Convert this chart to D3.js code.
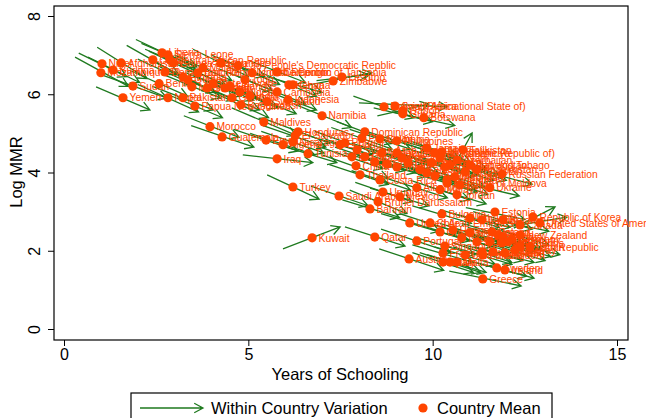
<!DOCTYPE html>
<html>
<head>
<meta charset="utf-8">
<script src="https://cdn.jsdelivr.net/npm/d3@7/dist/d3.min.js"></script>
<style>
  body { margin: 0; background: #fff; }
  text { font-family: "Liberation Sans", Arial, sans-serif; }
</style>
</head>
<body>
<div id="chart"></div>
<script>
// Country names (same order in every array below)
const countries = [
  "Niger","Mozambique","Afghanistan","Burkina Faso","Sudan","Yemen","Chad","Liberia","Sierra Leone","Central African Republic",
  "Democratic Republic of the Congo","Benin","Guinea-Bissau","Ethiopia","Guinea","Mauritania","Nepal","Pakistan","Papua New Guinea","Burundi",
  "Malawi","Senegal","Cote d'Ivoire","Rwanda","Haiti","Gambia","Nigeria","Bangladesh","Lao People's Democratic Repblic","United Republic of Tanzania",
  "Togo","Cameroon","Kenya","Ghana","Uganda","Cambodia","Swaziland","Indonesia","India","Zimbabwe",
  "Lesotho","Namibia","Maldives","Morocco","Guatemala","Iraq","Turkey","Kuwait","Saudi Arabia","Bahrain",
  "Brunei Darussalam","Uruguay","Qatar","Portugal","Austria","United Arab Emirates","Costa Rica","Thailand","China","Brazil",
  "Tunisia","Honduras","El Salvador","Nicaragua","Algeria","Egypt","Dominican Republic","Ecuador","Peru","Paraguay",
  "Colombia","Philippines","Bolivia (Plurinational State of)","South Africa","Guyana","Botswana","Gabon","Tajikistan","Trinidad and Tobago","Russian Federation",
  "Republic of Moldova","Ukraine","Kyrgyzstan","Kazakhstan","Uzbekistan","Mongolia","Viet Nam","Iran (Islamic Republic of)","Jamaica","Sri Lanka",
  "Armenia","Azerbaijan","Georgia","Belize","Malaysia","Jordan","Albania","Mexico","Libyan Arab Jamahiriya","Panama",
  "Venezuela","Fiji","Suriname","Cape Verde","Syrian Arab Republic","Tonga","Lebanon","Samoa","Turkmenistan","Argentina",
  "Mauritius","Chile","Bulgaria","Estonia","Republic of Korea","United States of America","Canada","Lithuania","Latvia","Belarus",
  "Hungary","Croatia","Slovakia","Poland","Serbia","Cyprus","Germany","New Zealand","Israel","Slovenia",
  "Belgium","Netherlands","Denmark","Czech Republic","Norway","Japan","Switzerland","Australia","Iceland","Finland",
  "France","United Kingdom","Spain","Italy","Malta","Sweden","Ireland","Greece","Singapore"
];

// Country means
const meanSchooling = [
  1.03,1.00,1.55,1.33,1.87,1.60,2.41,2.66,2.82,2.87,
  2.74,2.58,2.96,3.23,3.36,3.47,2.82,3.23,3.55,3.63,
  3.77,3.88,4.04,4.26,4.37,4.56,4.77,4.80,4.72,5.10,
  4.91,5.78,6.10,6.21,4.50,5.78,5.51,6.08,5.04,7.30,
  7.54,7.00,5.42,3.96,4.29,5.78,6.21,6.73,7.46,8.30,
  8.52,8.65,8.43,9.57,9.36,9.38,8.57,8.03,7.92,7.81,
  6.62,6.35,6.27,6.21,5.94,5.48,8.16,7.49,7.62,8.08,
  8.57,9.03,8.68,8.98,9.19,9.76,9.19,10.82,10.47,11.88,
  10.39,11.55,10.88,11.20,11.01,10.25,10.20,10.05,9.84,9.98,
  10.33,10.66,9.84,10.74,10.20,10.66,9.57,9.11,9.03,9.17,
  8.62,8.43,8.76,8.16,7.95,9.03,9.33,9.66,10.06,10.39,
  10.60,9.93,10.25,11.69,12.72,12.91,12.37,11.01,11.34,11.91,
  10.55,10.20,11.01,11.61,11.77,11.91,12.15,12.37,10.79,11.20,
  11.55,11.88,12.04,12.37,12.23,12.64,11.34,11.64,11.96,11.36,
  10.28,10.88,10.28,10.47,10.66,11.74,11.96,11.36,10.33
];
const meanLogMMR = [
  6.78,6.55,6.80,6.62,6.21,5.91,6.88,7.06,7.01,6.88,
  6.57,6.27,6.80,6.44,6.37,6.19,5.91,5.91,5.70,6.55,
  6.68,6.16,6.27,6.80,6.16,5.91,6.06,5.73,6.73,6.55,
  6.37,6.57,6.24,6.24,6.21,6.06,5.81,5.86,5.96,6.34,
  6.44,5.45,5.29,5.17,4.91,4.35,3.63,2.33,3.40,3.07,
  3.25,3.50,2.35,2.25,1.79,2.71,3.81,3.94,4.17,4.40,
  4.48,5.04,4.94,4.78,4.71,4.83,5.04,4.71,4.76,4.88,
  4.86,4.81,5.68,5.70,5.50,5.40,5.58,4.58,4.19,3.96,
  3.73,3.61,4.02,4.07,4.19,4.53,4.37,4.50,4.63,4.25,
  4.14,4.32,3.99,3.68,3.56,3.43,3.61,3.38,4.50,4.37,
  4.50,4.27,4.22,4.40,4.58,4.14,4.25,4.07,3.91,3.81,
  3.89,2.71,2.94,2.99,2.86,2.71,2.66,2.84,2.79,2.79,
  2.53,2.48,2.46,2.48,2.40,2.35,2.30,2.40,2.33,2.23,
  2.23,2.20,2.23,2.10,2.02,2.10,1.97,1.97,1.94,1.89,
  1.94,1.89,1.71,1.71,1.71,1.56,1.51,1.28,2.12
];

// Within-country variation: first and last observation
const startSchooling = [
  0.40,0.30,0.90,0.65,1.00,0.87,1.70,1.95,2.10,2.20,
  2.00,1.80,2.30,2.50,2.60,2.70,2.00,2.40,2.80,2.90,
  3.00,3.10,3.30,3.50,3.60,3.80,4.00,4.05,4.00,4.35,
  4.20,5.05,5.35,5.50,3.75,5.00,4.75,5.30,4.30,6.45,
  6.85,6.25,4.55,3.25,3.45,4.85,5.51,5.94,6.70,7.55,
  7.75,7.90,7.62,8.60,8.55,8.60,7.80,7.20,7.00,6.95,
  5.85,5.50,5.40,5.35,5.05,4.60,7.40,6.60,6.80,7.25,
  7.75,8.20,7.85,8.00,8.40,8.90,8.50,10.60,9.65,11.10,
  9.60,10.80,10.05,10.40,10.20,9.40,9.35,9.20,9.00,9.10,
  9.50,9.85,9.00,9.95,9.40,9.85,8.75,8.30,8.20,8.35,
  7.80,7.60,7.95,7.35,7.10,8.20,8.50,8.85,9.25,9.55,
  9.80,9.10,9.45,10.90,12.20,12.10,11.60,10.20,10.55,11.10,
  9.70,9.40,10.20,10.80,10.95,11.10,11.35,11.55,9.95,10.40,
  10.75,11.10,11.25,11.60,11.45,11.85,10.55,10.85,11.15,10.55,
  9.45,10.05,9.45,9.65,9.85,10.95,11.15,10.45,9.50
];
const startLogMMR = [
  7.05,6.95,7.20,6.95,6.50,6.19,7.25,7.40,7.30,7.15,
  6.90,6.60,7.10,6.80,6.70,6.50,6.25,6.20,6.00,6.90,
  7.00,6.45,6.55,7.15,6.45,6.20,6.35,6.05,7.00,6.85,
  6.65,6.85,6.55,6.45,6.50,6.35,6.10,6.15,6.25,6.20,
  6.35,5.75,5.65,5.45,5.20,4.45,3.94,2.05,3.65,3.30,
  3.55,3.75,2.61,2.55,2.05,2.95,4.05,4.20,4.45,4.65,
  4.70,5.35,5.20,5.05,5.00,5.10,5.30,4.95,5.05,5.15,
  5.10,5.05,5.95,5.78,5.65,5.55,5.45,4.20,4.40,4.10,
  3.95,3.75,4.25,4.30,4.40,4.80,4.60,4.75,4.85,4.50,
  4.35,4.60,4.20,3.90,3.80,3.65,3.85,3.60,4.75,4.60,
  4.75,4.50,4.45,4.65,4.85,4.35,4.50,4.30,4.15,4.05,
  4.10,2.95,3.15,3.10,2.58,2.62,2.80,3.05,2.95,3.00,
  2.75,2.70,2.70,2.70,2.60,2.55,2.50,2.60,2.55,2.45,
  2.45,2.40,2.40,2.30,2.20,2.25,2.20,2.15,2.10,2.10,
  2.15,2.10,1.95,1.95,1.90,1.75,1.70,1.48,2.35
];
const endSchooling = [
  1.70,1.75,2.25,2.05,2.80,2.33,3.10,3.40,3.60,3.60,
  3.50,3.35,3.65,4.00,4.10,4.25,3.65,4.05,4.30,4.40,
  4.55,4.65,4.80,5.00,5.15,5.30,5.55,5.55,5.45,5.85,
  5.65,6.55,6.85,7.00,5.25,6.55,6.30,6.85,5.80,8.35,
  8.25,7.80,6.30,4.75,5.15,6.75,6.92,7.49,8.25,9.10,
  9.30,9.45,9.25,10.50,10.30,10.20,9.40,8.80,8.80,8.65,
  7.40,7.20,7.10,7.05,6.80,6.35,8.95,8.35,8.45,8.90,
  9.40,9.85,9.50,10.40,10.00,10.60,9.90,11.07,11.25,12.70,
  11.20,12.35,11.65,12.00,11.80,11.05,11.05,10.90,10.70,10.80,
  11.15,11.45,10.65,11.50,11.00,11.45,10.40,9.90,9.85,10.00,
  9.45,9.25,9.55,8.95,8.75,9.85,10.15,10.45,10.85,11.20,
  11.40,10.75,11.05,12.50,13.32,13.64,13.15,11.80,12.10,12.70,
  11.40,11.00,11.85,12.40,12.60,12.70,12.95,13.15,11.60,12.00,
  12.35,12.70,12.85,13.20,13.05,13.45,12.15,12.45,12.75,12.15,
  11.10,11.70,11.10,11.30,11.45,12.55,12.75,12.40,11.15
];
const endLogMMR = [
  6.45,6.20,6.40,6.30,5.90,5.60,6.50,6.75,6.70,6.60,
  6.25,5.95,6.50,6.10,6.05,5.90,5.55,5.60,5.40,6.20,
  6.35,5.85,5.95,6.45,5.85,5.60,5.75,5.40,6.45,6.25,
  6.10,6.30,5.95,6.05,5.90,5.75,5.50,5.60,5.65,6.55,
  6.50,5.15,4.95,4.90,4.65,4.25,3.32,2.61,3.15,2.85,
  2.95,3.25,2.12,1.95,1.50,2.50,3.55,3.70,3.85,4.10,
  4.25,4.75,4.65,4.50,4.45,4.55,4.75,4.45,4.50,4.60,
  4.60,4.55,5.40,5.68,5.30,5.20,5.75,5.01,3.95,3.70,
  3.50,3.40,3.80,3.80,3.95,4.25,4.15,4.25,4.40,4.00,
  3.90,4.10,3.75,3.45,3.30,3.20,3.35,3.15,4.25,4.15,
  4.25,4.05,4.00,4.15,4.30,3.90,4.00,3.85,3.70,3.60,
  3.65,2.45,2.70,2.80,3.12,2.86,2.50,2.60,2.60,2.55,
  2.30,2.25,2.20,2.25,2.15,2.10,2.05,2.15,2.10,2.00,
  2.00,1.95,2.05,1.85,1.75,1.90,1.70,1.75,1.70,1.65,
  1.70,1.65,1.45,1.45,1.45,1.35,1.30,1.10,1.90
];

// Axis ticks
const xTicks = [0, 5, 10, 15];
const yTicks = [0, 2, 4, 6, 8];

const width = 646;
const height = 418;
const arrowColor = '#1f7a1f';
const dotColor = '#ff4500';

const svg = d3.select('#chart')
  .append('svg')
  .attr('width', width)
  .attr('height', height);

const x = d3.scaleLinear().domain([0, 15]).range([64, 617]);
const y = d3.scaleLinear().domain([0, 8]).range([329, 16]);

// plot region box
svg.append('rect')
  .attr('x', 54).attr('y', 6)
  .attr('width', 574).attr('height', 334)
  .attr('fill', 'none')
  .attr('stroke', '#000')
  .attr('stroke-width', 1.2);

// axes
const xAxis = svg.append('g')
  .attr('transform', 'translate(0,340)')
  .call(d3.axisBottom(x).tickValues(xTicks).tickSize(6).tickPadding(3));
xAxis.select('.domain').remove();
xAxis.selectAll('text').attr('font-size', 16).attr('fill', '#000');

const yAxis = svg.append('g')
  .attr('transform', 'translate(54,0)')
  .call(d3.axisLeft(y).tickValues(yTicks).tickSize(6));
yAxis.select('.domain').remove();
yAxis.selectAll('text')
  .attr('x', null).attr('dy', null).attr('y', 0)
  .attr('text-anchor', 'middle')
  .attr('transform', 'translate(-14,0) rotate(-90)')
  .attr('font-size', 16)
  .attr('fill', '#000');

svg.append('text')
  .attr('x', 340).attr('y', 380)
  .attr('text-anchor', 'middle')
  .attr('font-size', 16.5)
  .text('Years of Schooling');

svg.append('text')
  .attr('transform', 'translate(22,172) rotate(-90)')
  .attr('text-anchor', 'middle')
  .attr('font-size', 16.5)
  .text('Log MMR');

// arrow path: line plus open barbs at the end
function arrowPath(x0, y0, x1, y1, len) {
  const a = Math.atan2(y1 - y0, x1 - x0);
  const t = 0.5;
  const h1 = [x1 - len * Math.cos(a - t), y1 - len * Math.sin(a - t)];
  const h2 = [x1 - len * Math.cos(a + t), y1 - len * Math.sin(a + t)];
  return `M${x0},${y0}L${x1},${y1}M${h1[0]},${h1[1]}L${x1},${y1}L${h2[0]},${h2[1]}`;
}

const rows = countries.map((c, i) => ({
  name: c,
  mx: meanSchooling[i], my: meanLogMMR[i],
  x0: startSchooling[i], y0: startLogMMR[i],
  x1: endSchooling[i], y1: endLogMMR[i]
}));

// within-country arrows
svg.append('g')
  .selectAll('path')
  .data(rows)
  .enter()
  .append('path')
  .attr('d', d => arrowPath(x(d.x0), y(d.y0), x(d.x1), y(d.y1), 10))
  .attr('fill', 'none')
  .attr('stroke', arrowColor)
  .attr('stroke-width', 1.3);

// country means with labels
const pts = svg.append('g')
  .selectAll('g')
  .data(rows)
  .enter()
  .append('g')
  .attr('transform', d => `translate(${x(d.mx)},${y(d.my)})`);

pts.append('circle')
  .attr('r', 4.6)
  .attr('fill', dotColor);

pts.append('text')
  .attr('x', 6.5)
  .attr('dy', '0.36em')
  .attr('font-size', 10.3)
  .attr('fill', dotColor)
  .text(d => d.name);

// legend
const legend = svg.append('g');
legend.append('rect')
  .attr('x', 131).attr('y', 393)
  .attr('width', 421).attr('height', 40)
  .attr('fill', '#fff')
  .attr('stroke', '#000')
  .attr('stroke-width', 1.2);
legend.append('path')
  .attr('d', arrowPath(140, 408, 203, 408, 10))
  .attr('fill', 'none')
  .attr('stroke', arrowColor)
  .attr('stroke-width', 1.3);
legend.append('text')
  .attr('x', 211).attr('y', 414)
  .attr('font-size', 16.5)
  .text('Within Country Variation');
legend.append('circle')
  .attr('cx', 423).attr('cy', 408)
  .attr('r', 4.6)
  .attr('fill', dotColor);
legend.append('text')
  .attr('x', 437).attr('y', 414)
  .attr('font-size', 16.5)
  .text('Country Mean');
</script>
</body>
</html>
